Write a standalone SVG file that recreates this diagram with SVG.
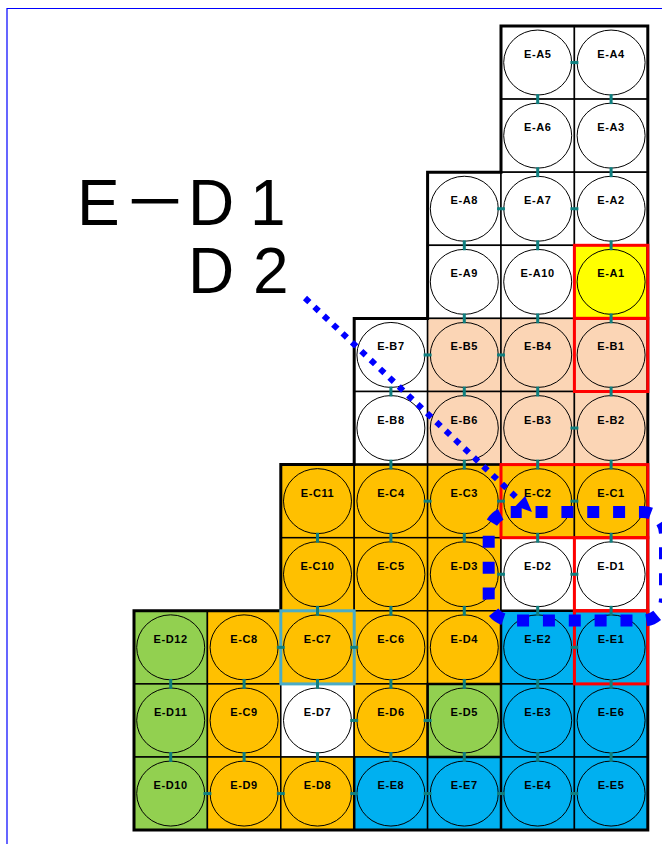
<svg xmlns="http://www.w3.org/2000/svg" width="662" height="844" viewBox="0 0 662 844">
<defs>
<style>
.node rect{stroke:#000;stroke-width:1.5}
.node ellipse{fill:none;stroke:#000;stroke-width:1}
.node text{font-family:"Liberation Sans",Arial,sans-serif;font-weight:bold;font-size:11px;letter-spacing:0.6px;text-anchor:middle;fill:#000}
.w rect{fill:#fff}
.y rect{fill:#ffff00}
.p rect{fill:#fbd5b5}
.o rect{fill:#ffc000}
.g rect{fill:#92d050}
.b rect{fill:#00b0f0}
#connectors rect{fill:#0f7f7f}
.red{fill:none;stroke:#ff0000;stroke-width:3}
.big{font-family:"Liberation Sans",Arial,sans-serif;font-size:64px;fill:#000}
</style>
</defs>
<rect width="662" height="844" fill="#fff"/>
<path d="M7,844V8.5H662" fill="none" stroke="#0000ff" stroke-width="1.2"/>

<g id="title">
<text class="big"><tspan x="77" y="225">E</tspan><tspan x="123" y="225" font-family="'Noto Sans CJK JP',sans-serif">－</tspan><tspan x="188" y="225">D</tspan><tspan x="250" y="225">1</tspan><tspan x="188" y="293">D</tspan><tspan x="253" y="293">2</tspan></text>
</g>

<g id="cells">
<g id="E-A5" class="node w" transform="translate(501,26)"><rect width="73.4" height="73.1"/><ellipse cx="36.7" cy="36.55" rx="34" ry="32.5"/><text x="36.7" y="32">E-A5</text></g>
<g id="E-A4" class="node w" transform="translate(574.4,26)"><rect width="73.4" height="73.1"/><ellipse cx="36.7" cy="36.55" rx="34" ry="32.5"/><text x="36.7" y="32">E-A4</text></g>
<g id="E-A6" class="node w" transform="translate(501,99.1)"><rect width="73.4" height="73.1"/><ellipse cx="36.7" cy="36.55" rx="34" ry="32.5"/><text x="36.7" y="32">E-A6</text></g>
<g id="E-A3" class="node w" transform="translate(574.4,99.1)"><rect width="73.4" height="73.1"/><ellipse cx="36.7" cy="36.55" rx="34" ry="32.5"/><text x="36.7" y="32">E-A3</text></g>
<g id="E-A8" class="node w" transform="translate(427.6,172.2)"><rect width="73.4" height="73.1"/><ellipse cx="36.7" cy="36.55" rx="34" ry="32.5"/><text x="36.7" y="32">E-A8</text></g>
<g id="E-A7" class="node w" transform="translate(501,172.2)"><rect width="73.4" height="73.1"/><ellipse cx="36.7" cy="36.55" rx="34" ry="32.5"/><text x="36.7" y="32">E-A7</text></g>
<g id="E-A2" class="node w" transform="translate(574.4,172.2)"><rect width="73.4" height="73.1"/><ellipse cx="36.7" cy="36.55" rx="34" ry="32.5"/><text x="36.7" y="32">E-A2</text></g>
<g id="E-A9" class="node w" transform="translate(427.6,245.3)"><rect width="73.4" height="73.1"/><ellipse cx="36.7" cy="36.55" rx="34" ry="32.5"/><text x="36.7" y="32">E-A9</text></g>
<g id="E-A10" class="node w" transform="translate(501,245.3)"><rect width="73.4" height="73.1"/><ellipse cx="36.7" cy="36.55" rx="34" ry="32.5"/><text x="36.7" y="32">E-A10</text></g>
<g id="E-A1" class="node y" transform="translate(574.4,245.3)"><rect width="73.4" height="73.1"/><ellipse cx="36.7" cy="36.55" rx="34" ry="32.5"/><text x="36.7" y="32">E-A1</text></g>
<g id="E-B7" class="node w" transform="translate(354.2,318.4)"><rect width="73.4" height="73.1"/><ellipse cx="36.7" cy="36.55" rx="34" ry="32.5"/><text x="36.7" y="32">E-B7</text></g>
<g id="E-B5" class="node p" transform="translate(427.6,318.4)"><rect width="73.4" height="73.1"/><ellipse cx="36.7" cy="36.55" rx="34" ry="32.5"/><text x="36.7" y="32">E-B5</text></g>
<g id="E-B4" class="node p" transform="translate(501,318.4)"><rect width="73.4" height="73.1"/><ellipse cx="36.7" cy="36.55" rx="34" ry="32.5"/><text x="36.7" y="32">E-B4</text></g>
<g id="E-B1" class="node p" transform="translate(574.4,318.4)"><rect width="73.4" height="73.1"/><ellipse cx="36.7" cy="36.55" rx="34" ry="32.5"/><text x="36.7" y="32">E-B1</text></g>
<g id="E-B8" class="node w" transform="translate(354.2,391.5)"><rect width="73.4" height="73.1"/><ellipse cx="36.7" cy="36.55" rx="34" ry="32.5"/><text x="36.7" y="32">E-B8</text></g>
<g id="E-B6" class="node p" transform="translate(427.6,391.5)"><rect width="73.4" height="73.1"/><ellipse cx="36.7" cy="36.55" rx="34" ry="32.5"/><text x="36.7" y="32">E-B6</text></g>
<g id="E-B3" class="node p" transform="translate(501,391.5)"><rect width="73.4" height="73.1"/><ellipse cx="36.7" cy="36.55" rx="34" ry="32.5"/><text x="36.7" y="32">E-B3</text></g>
<g id="E-B2" class="node p" transform="translate(574.4,391.5)"><rect width="73.4" height="73.1"/><ellipse cx="36.7" cy="36.55" rx="34" ry="32.5"/><text x="36.7" y="32">E-B2</text></g>
<g id="E-C11" class="node o" transform="translate(280.8,464.6)"><rect width="73.4" height="73.1"/><ellipse cx="36.7" cy="36.55" rx="34" ry="32.5"/><text x="36.7" y="32">E-C11</text></g>
<g id="E-C4" class="node o" transform="translate(354.2,464.6)"><rect width="73.4" height="73.1"/><ellipse cx="36.7" cy="36.55" rx="34" ry="32.5"/><text x="36.7" y="32">E-C4</text></g>
<g id="E-C3" class="node o" transform="translate(427.6,464.6)"><rect width="73.4" height="73.1"/><ellipse cx="36.7" cy="36.55" rx="34" ry="32.5"/><text x="36.7" y="32">E-C3</text></g>
<g id="E-C2" class="node o" transform="translate(501,464.6)"><rect width="73.4" height="73.1"/><ellipse cx="36.7" cy="36.55" rx="34" ry="32.5"/><text x="36.7" y="32">E-C2</text></g>
<g id="E-C1" class="node o" transform="translate(574.4,464.6)"><rect width="73.4" height="73.1"/><ellipse cx="36.7" cy="36.55" rx="34" ry="32.5"/><text x="36.7" y="32">E-C1</text></g>
<g id="E-C10" class="node o" transform="translate(280.8,537.7)"><rect width="73.4" height="73.1"/><ellipse cx="36.7" cy="36.55" rx="34" ry="32.5"/><text x="36.7" y="32">E-C10</text></g>
<g id="E-C5" class="node o" transform="translate(354.2,537.7)"><rect width="73.4" height="73.1"/><ellipse cx="36.7" cy="36.55" rx="34" ry="32.5"/><text x="36.7" y="32">E-C5</text></g>
<g id="E-D3" class="node o" transform="translate(427.6,537.7)"><rect width="73.4" height="73.1"/><ellipse cx="36.7" cy="36.55" rx="34" ry="32.5"/><text x="36.7" y="32">E-D3</text></g>
<g id="E-D2" class="node w" transform="translate(501,537.7)"><rect width="73.4" height="73.1"/><ellipse cx="36.7" cy="36.55" rx="34" ry="32.5"/><text x="36.7" y="32">E-D2</text></g>
<g id="E-D1" class="node w" transform="translate(574.4,537.7)"><rect width="73.4" height="73.1"/><ellipse cx="36.7" cy="36.55" rx="34" ry="32.5"/><text x="36.7" y="32">E-D1</text></g>
<g id="E-D12" class="node g" transform="translate(134,610.8)"><rect width="73.4" height="73.1"/><ellipse cx="36.7" cy="36.55" rx="34" ry="32.5"/><text x="36.7" y="32">E-D12</text></g>
<g id="E-C8" class="node o" transform="translate(207.4,610.8)"><rect width="73.4" height="73.1"/><ellipse cx="36.7" cy="36.55" rx="34" ry="32.5"/><text x="36.7" y="32">E-C8</text></g>
<g id="E-C7" class="node o" transform="translate(280.8,610.8)"><rect width="73.4" height="73.1"/><ellipse cx="36.7" cy="36.55" rx="34" ry="32.5"/><text x="36.7" y="32">E-C7</text></g>
<g id="E-C6" class="node o" transform="translate(354.2,610.8)"><rect width="73.4" height="73.1"/><ellipse cx="36.7" cy="36.55" rx="34" ry="32.5"/><text x="36.7" y="32">E-C6</text></g>
<g id="E-D4" class="node o" transform="translate(427.6,610.8)"><rect width="73.4" height="73.1"/><ellipse cx="36.7" cy="36.55" rx="34" ry="32.5"/><text x="36.7" y="32">E-D4</text></g>
<g id="E-E2" class="node b" transform="translate(501,610.8)"><rect width="73.4" height="73.1"/><ellipse cx="36.7" cy="36.55" rx="34" ry="32.5"/><text x="36.7" y="32">E-E2</text></g>
<g id="E-E1" class="node b" transform="translate(574.4,610.8)"><rect width="73.4" height="73.1"/><ellipse cx="36.7" cy="36.55" rx="34" ry="32.5"/><text x="36.7" y="32">E-E1</text></g>
<g id="E-D11" class="node g" transform="translate(134,683.9)"><rect width="73.4" height="73.1"/><ellipse cx="36.7" cy="36.55" rx="34" ry="32.5"/><text x="36.7" y="32">E-D11</text></g>
<g id="E-C9" class="node o" transform="translate(207.4,683.9)"><rect width="73.4" height="73.1"/><ellipse cx="36.7" cy="36.55" rx="34" ry="32.5"/><text x="36.7" y="32">E-C9</text></g>
<g id="E-D7" class="node w" transform="translate(280.8,683.9)"><rect width="73.4" height="73.1"/><ellipse cx="36.7" cy="36.55" rx="34" ry="32.5"/><text x="36.7" y="32">E-D7</text></g>
<g id="E-D6" class="node o" transform="translate(354.2,683.9)"><rect width="73.4" height="73.1"/><ellipse cx="36.7" cy="36.55" rx="34" ry="32.5"/><text x="36.7" y="32">E-D6</text></g>
<g id="E-D5" class="node g" transform="translate(427.6,683.9)"><rect width="73.4" height="73.1"/><ellipse cx="36.7" cy="36.55" rx="34" ry="32.5"/><text x="36.7" y="32">E-D5</text></g>
<g id="E-E3" class="node b" transform="translate(501,683.9)"><rect width="73.4" height="73.1"/><ellipse cx="36.7" cy="36.55" rx="34" ry="32.5"/><text x="36.7" y="32">E-E3</text></g>
<g id="E-E6" class="node b" transform="translate(574.4,683.9)"><rect width="73.4" height="73.1"/><ellipse cx="36.7" cy="36.55" rx="34" ry="32.5"/><text x="36.7" y="32">E-E6</text></g>
<g id="E-D10" class="node g" transform="translate(134,757)"><rect width="73.4" height="73.1"/><ellipse cx="36.7" cy="36.55" rx="34" ry="32.5"/><text x="36.7" y="32">E-D10</text></g>
<g id="E-D9" class="node o" transform="translate(207.4,757)"><rect width="73.4" height="73.1"/><ellipse cx="36.7" cy="36.55" rx="34" ry="32.5"/><text x="36.7" y="32">E-D9</text></g>
<g id="E-D8" class="node o" transform="translate(280.8,757)"><rect width="73.4" height="73.1"/><ellipse cx="36.7" cy="36.55" rx="34" ry="32.5"/><text x="36.7" y="32">E-D8</text></g>
<g id="E-E8" class="node b" transform="translate(354.2,757)"><rect width="73.4" height="73.1"/><ellipse cx="36.7" cy="36.55" rx="34" ry="32.5"/><text x="36.7" y="32">E-E8</text></g>
<g id="E-E7" class="node b" transform="translate(427.6,757)"><rect width="73.4" height="73.1"/><ellipse cx="36.7" cy="36.55" rx="34" ry="32.5"/><text x="36.7" y="32">E-E7</text></g>
<g id="E-E4" class="node b" transform="translate(501,757)"><rect width="73.4" height="73.1"/><ellipse cx="36.7" cy="36.55" rx="34" ry="32.5"/><text x="36.7" y="32">E-E4</text></g>
<g id="E-E5" class="node b" transform="translate(574.4,757)"><rect width="73.4" height="73.1"/><ellipse cx="36.7" cy="36.55" rx="34" ry="32.5"/><text x="36.7" y="32">E-E5</text></g>
</g>

<g id="outline" fill="none" stroke="#000">
<path d="M501,26H647.8V830.1H134V610.8H280.8V464.6H354.2V318.4H427.6V172.2H501Z" stroke-width="3"/>
<path d="M354.2,464.6H501M501,610.8H647.8M501,610.8V830.1M354.2,757V830.1M427.6,683.9H501V757H427.6Z" stroke-width="2.5"/>
</g>

<g id="highlights">
<rect class="red" x="574.4" y="245.3" width="73.4" height="73.1"/>
<rect class="red" x="574.4" y="318.4" width="73.4" height="73.1"/>
<rect class="red" x="501" y="464.6" width="146.8" height="73.1"/>
<rect class="red" x="574.4" y="537.7" width="73.4" height="73.1"/>
<rect class="red" x="574.4" y="610.8" width="73.4" height="73.1"/>
<rect x="280.8" y="610.8" width="73.4" height="73.1" fill="none" stroke="#4bacc6" stroke-width="3"/>
</g>

<g id="connectors">
<rect x="536.2" y="94.1" width="3" height="10"/><rect x="536.2" y="167.2" width="3" height="10"/><rect x="536.2" y="240.3" width="3" height="10"/><rect x="536.2" y="313.4" width="3" height="10"/><rect x="536.2" y="386.5" width="3" height="10"/><rect x="536.2" y="459.6" width="3" height="10"/><rect x="536.2" y="532.7" width="3" height="10"/><rect x="536.2" y="605.8" width="3" height="10"/><rect x="536.2" y="678.9" width="3" height="10"/><rect x="536.2" y="752" width="3" height="10"/>
<rect x="609.6" y="94.1" width="3" height="10"/><rect x="609.6" y="167.2" width="3" height="10"/><rect x="609.6" y="240.3" width="3" height="10"/><rect x="609.6" y="313.4" width="3" height="10"/><rect x="609.6" y="386.5" width="3" height="10"/><rect x="609.6" y="459.6" width="3" height="10"/><rect x="609.6" y="532.7" width="3" height="10"/><rect x="609.6" y="605.8" width="3" height="10"/><rect x="609.6" y="678.9" width="3" height="10"/><rect x="609.6" y="752" width="3" height="10"/>
<rect x="462.8" y="240.3" width="3" height="10"/><rect x="462.8" y="313.4" width="3" height="10"/><rect x="462.8" y="386.5" width="3" height="10"/><rect x="462.8" y="459.6" width="3" height="10"/><rect x="462.8" y="532.7" width="3" height="10"/><rect x="462.8" y="605.8" width="3" height="10"/><rect x="462.8" y="678.9" width="3" height="10"/><rect x="462.8" y="752" width="3" height="10"/>
<rect x="389.4" y="386.5" width="3" height="10"/><rect x="389.4" y="459.6" width="3" height="10"/><rect x="389.4" y="532.7" width="3" height="10"/><rect x="389.4" y="605.8" width="3" height="10"/><rect x="389.4" y="678.9" width="3" height="10"/><rect x="389.4" y="752" width="3" height="10"/>
<rect x="316" y="532.7" width="3" height="10"/><rect x="316" y="605.8" width="3" height="10"/><rect x="316" y="678.9" width="3" height="10"/><rect x="316" y="752" width="3" height="10"/>
<rect x="242.6" y="678.9" width="3" height="10"/><rect x="242.6" y="752" width="3" height="10"/>
<rect x="169.2" y="678.9" width="3" height="10"/><rect x="169.2" y="752" width="3" height="10"/>
<rect x="570.4" y="61.05" width="8" height="3"/>
<rect x="497" y="207.25" width="8" height="3"/><rect x="570.4" y="207.25" width="8" height="3"/>
<rect x="423.6" y="353.45" width="8" height="3"/><rect x="497" y="353.45" width="8" height="3"/>
<rect x="570.4" y="426.55" width="8" height="3"/>
<rect x="423.6" y="499.65" width="8" height="3"/><rect x="497" y="499.65" width="8" height="3"/><rect x="570.4" y="499.65" width="8" height="3"/>
<rect x="497" y="572.75" width="8" height="3"/><rect x="570.4" y="572.75" width="8" height="3"/>
<rect x="276.8" y="645.85" width="8" height="3"/><rect x="350.2" y="645.85" width="8" height="3"/><rect x="570.4" y="645.85" width="8" height="3"/>
<rect x="350.2" y="718.95" width="8" height="3"/><rect x="423.6" y="718.95" width="8" height="3"/>
<rect x="203.4" y="792.05" width="8" height="3"/><rect x="276.8" y="792.05" width="8" height="3"/><rect x="350.2" y="792.05" width="8" height="3"/><rect x="423.6" y="792.05" width="8" height="3"/><rect x="497" y="792.05" width="8" height="3"/><rect x="570.4" y="792.05" width="8" height="3"/>
</g>

<g id="markings" fill="none" stroke="#0000ff">
<path d="M510.7,512H643A22,22 0 0 1 665,534V598.5" stroke-width="12" stroke-dasharray="12 13.85" stroke-dashoffset="1"/>
<path d="M665,598.5A22,22 0 0 1 643,620.5H510.7A22,22 0 0 1 488.7,598.5V534A22,22 0 0 1 510.7,512" stroke-width="12" stroke-dasharray="12 13.85" stroke-dashoffset="6.84"/>
<path d="M305,298L518,499" stroke-width="6" stroke-dasharray="6 6.9"/>
<polygon points="532,512 515.6,506.1 525.2,495.9" fill="#0000ff" stroke="none"/>
</g>
</svg>
